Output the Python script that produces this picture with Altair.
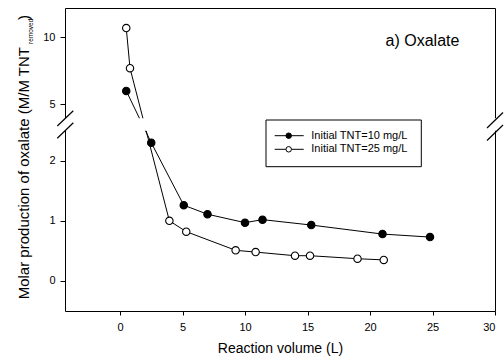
import altair as alt
import pandas as pd

# ---- data ----
filled_x = [0.5, 2.5, 5.1, 7.0, 10.0, 11.4, 15.3, 21.0, 24.8]
filled_y = [6.0, 2.3, 1.26, 1.11, 0.97, 1.02, 0.93, 0.78, 0.73]
open_x = [0.5, 0.8, 3.95, 5.3, 9.25, 10.85, 14.0, 15.2, 19.0, 21.1]
open_y = [10.7, 7.7, 1.0, 0.82, 0.51, 0.48, 0.42, 0.42, 0.37, 0.35]
series_names = ["Initial TNT=10 mg/L", "Initial TNT=25 mg/L"]
x_ticks = [0, 5, 10, 15, 20, 25, 30]
y_ticks = [0, 1, 2, 5, 10]
panel_title = "a) Oxalate"
x_title = "Reaction volume (L)"
y_title_main = "Molar production of oxalate (M/M TNT"
y_title_sub = "removed"
y_title_end = ")"

df = pd.concat([
    pd.DataFrame({"x": filled_x, "y": filled_y, "series": series_names[0]}),
    pd.DataFrame({"x": open_x, "y": open_y, "series": series_names[1]}),
], ignore_index=True)

FONT = "Liberation Sans"
W, H = 430, 303
one = pd.DataFrame({"k": [0]})

xs = alt.Scale(domain=[-4.4, 30], nice=False, zero=False)
ys = alt.Scale(domain=[-0.5, 2.5, 3.95, 12.2], range=[H, 122.7, 110.3, 0],
               nice=False, zero=False)
fill_scale = alt.Scale(domain=series_names, range=["black", "white"])

X = alt.X("x:Q", scale=xs, axis=alt.Axis(values=x_ticks, title=x_title, titleFontSize=14,
                                         titleFontWeight="normal", titleFont=FONT,
                                         titleColor="black", titlePadding=9,
                                         labelFontSize=11, labelPadding=6, labelFont=FONT,
                                         labelColor="black", tickColor="black",
                                         tickSize=4, format="d", grid=False, domain=False))
Y = alt.Y("y:Q", scale=ys, axis=alt.Axis(values=y_ticks, title=None, labelFontSize=11,
                                         labelFont=FONT, labelColor="black",
                                         tickColor="black", labelPadding=5, tickSize=5,
                                         format="d", grid=False, domain=False))

lines = alt.Chart(df).mark_line(color="black", strokeWidth=1).encode(
    x=X, y=Y, detail="series:N")
points = alt.Chart(df).mark_point(shape="circle", filled=True, size=55, stroke="black",
                                  strokeWidth=1.1, opacity=1).encode(
    x=X, y=Y, fill=alt.Fill("series:N", scale=fill_scale, legend=None))

# axis-break mask and slashes
mask = alt.Chart(one).mark_rect(color="white").encode(
    x=alt.value(-12), x2=alt.value(W + 12), y=alt.value(110.3), y2=alt.value(122.7))

def slash(x1, y1, x2, y2):
    return alt.Chart(one).mark_rule(color="black", strokeWidth=1.2).encode(
        x=alt.value(x1), y=alt.value(y1), x2=alt.value(x2), y2=alt.value(y2))

slashes = [slash(-7.7, 118, 8.3, 102.7), slash(-7.7, 130.3, 8.3, 114.7),
           slash(W - 8, 120, W + 8, 104.5), slash(W - 8, 132.5, W + 8, 117)]

# legend (drawn manually)
leg_box = alt.Chart(one).mark_rect(fill="white", stroke="black", strokeWidth=1).encode(
    x=alt.value(201), x2=alt.value(356.3), y=alt.value(112), y2=alt.value(158.7))
leg_layers = [leg_box]
for i, (name, fc) in enumerate(zip(series_names, ["black", "white"])):
    yy = 127.7 + i * 13.6
    ldf = pd.DataFrame({"label": [name]})
    leg_layers.append(alt.Chart(ldf).mark_rule(color="black", strokeWidth=1).encode(
        x=alt.value(209.7), x2=alt.value(238.7), y=alt.value(yy)))
    leg_layers.append(alt.Chart(ldf).mark_point(shape="circle", filled=True, size=30,
                                                fill=fc, stroke="black", strokeWidth=1,
                                                opacity=1).encode(
        x=alt.value(223.7), y=alt.value(yy)))
    leg_layers.append(alt.Chart(ldf).mark_text(align="left", baseline="middle", font=FONT,
                                               fontSize=11, color="black").encode(
        x=alt.value(246.3), y=alt.value(yy), text="label:N"))

title_txt = alt.Chart(pd.DataFrame({"t": [panel_title]})).mark_text(
    align="center", baseline="alphabetic", font=FONT, fontSize=16, color="black").encode(
    x=alt.value(357.5), y=alt.value(37.7), text="t:N")

ymain = alt.Chart(pd.DataFrame({"t": [y_title_main]})).mark_text(
    align="right", baseline="alphabetic", angle=270, font=FONT, fontSize=15,
    color="black").encode(x=alt.value(-36), y=alt.value(39), text="t:N")
ysub = alt.Chart(pd.DataFrame({"t": [y_title_sub]})).mark_text(
    align="left", baseline="alphabetic", angle=270, font=FONT, fontSize=6.5,
    color="black").encode(x=alt.value(-32.5), y=alt.value(36), text="t:N")
yend = alt.Chart(pd.DataFrame({"t": [y_title_end]})).mark_text(
    align="left", baseline="alphabetic", angle=270, font=FONT, fontSize=15,
    color="black").encode(x=alt.value(-36), y=alt.value(12), text="t:N")

chart = alt.layer(lines, points, mask, *slashes, *leg_layers, title_txt, ymain, ysub, yend
                  ).properties(
    width=W, height=H,
    background="white",
    autosize=alt.AutoSizeParams(type="none"),
    padding={"left": 65, "top": 8, "right": 9, "bottom": 51},
).configure_view(stroke="black", strokeWidth=1)

chart.save("out.html", embed_options={"renderer": "svg", "actions": False})
